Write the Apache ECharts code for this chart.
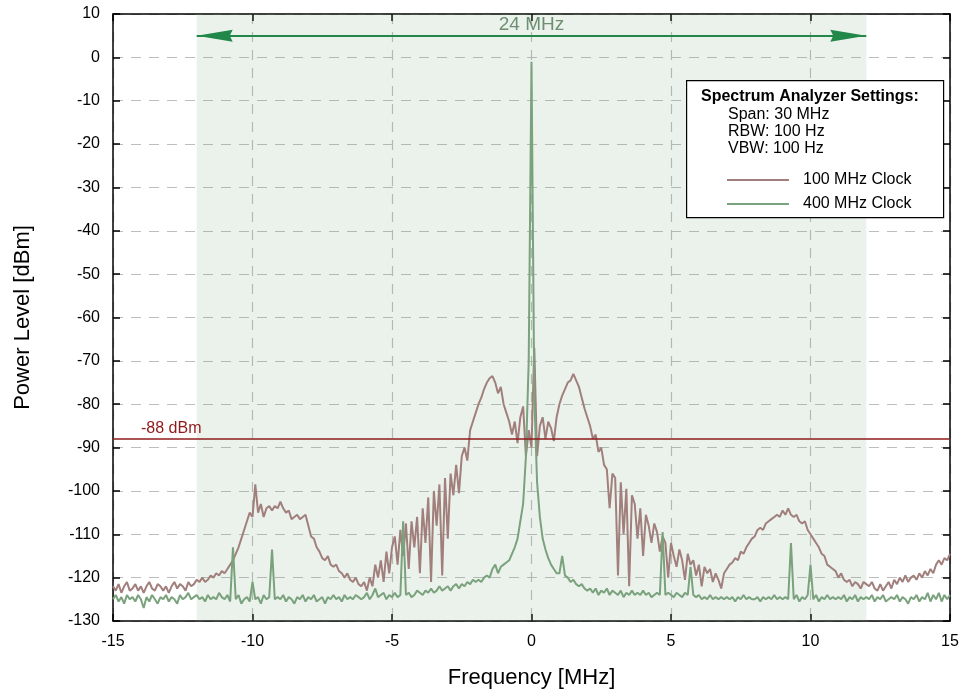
<!DOCTYPE html>
<html lang="en">
<head>
<meta charset="UTF-8">
<title>Spectrum</title>
<script src="https://cdn.jsdelivr.net/npm/echarts@6/dist/echarts.min.js"></script>
<style>
    html, body { margin: 0; padding: 0; background: #fff; }
    #chart { width: 965px; height: 696px; }
</style>
</head>
<body>
<div id="chart"></div>
<script>
// analyzer sweep: -15 .. +15 MHz, one reading every 0.1 MHz
var freqStart = -15;
var freqStep = 0.1;

// 100 MHz clock trace [dBm], one row per MHz
var clock100 = [
    -122, -123, -121.5, -123.5, -122, -121, -123, -122.5, -121.5, -123,
    -122, -123.5, -122, -121, -122.5, -123, -121.5, -122, -123, -122,
    -123.5, -122, -121, -122.5, -121.5, -122, -123, -121, -122, -121.5,
    -120.5, -121, -120, -121, -120.5, -119.5, -120, -119, -119.5, -118.5,
    -119, -118, -117, -116, -114.5, -113, -111, -109, -107, -105,
    -106, -98.5, -105, -103, -106, -104, -103.5, -104.5, -103.5, -104,
    -102.5, -104, -105, -104.5, -106.5, -106, -105.5, -106.5, -106, -105.5,
    -108, -110.5, -111, -113, -114, -115.5, -116, -115, -117, -117.5,
    -117, -118.5, -119, -120, -119, -120.5, -121, -120, -121.5, -122,
    -121, -123, -120, -122, -117, -120, -116, -121, -114, -119,
    -113, -110.5, -117, -109, -115, -107.5, -118, -107, -113, -106,
    -119, -104, -112, -101.5, -121, -100, -108, -98.5, -119.5, -97,
    -111, -96, -101, -94, -100.5, -92, -90, -93, -86, -84,
    -82, -80, -78.5, -76.5, -75, -74, -73.5, -75, -77.5, -76,
    -80, -82, -84, -87, -84, -89, -83, -80.5, -92, -86,
    -90, -67, -92, -85, -83, -88, -84, -85.5, -88.5, -83,
    -80, -78, -76.5, -75, -74.5, -73, -74.5, -76, -78.5, -81,
    -83, -85, -88, -87, -91, -90, -94, -95, -104, -96,
    -97, -119.5, -98, -110, -99.5, -122, -101, -103, -111, -104,
    -115, -105.5, -108, -112, -107.5, -109.5, -114, -110.5, -112, -120,
    -112, -115, -117.5, -113.5, -116, -120.5, -114.5, -117, -116, -119.5,
    -117, -122, -117.5, -119, -118, -121, -119, -120.5, -122.5, -119,
    -118, -117, -116.5, -115.5, -116, -114, -114.5, -113, -112, -111,
    -110.5, -109, -108.5, -109, -107.5, -107, -106.5, -106, -105.5, -106,
    -104.5, -105.5, -104, -105.5, -106, -105.5, -107, -107.5, -107, -109,
    -110, -111, -112, -113, -114.5, -115, -117, -117.5, -118, -118.5,
    -120, -119, -120.5, -121, -120.5, -122, -121, -121.5, -122.5, -121,
    -121.5, -122, -121, -122.5, -123, -121.5, -123, -122, -121, -122.5,
    -120.5, -121.5, -120, -121, -119.5, -121, -120, -119.5, -120.5, -119,
    -120, -118.5, -119.5, -118, -119, -117, -116, -117, -115.5, -116,
    -114.5
];

// 400 MHz clock trace [dBm]
var clock400 = [
    -125, -124, -125.5, -124.5, -126, -124, -125, -124.5, -125.5, -124,
    -125, -127, -124.5, -125.5, -124, -125, -126, -124.5, -125, -124,
    -125.5, -124.5, -125, -126, -124, -125, -124.5, -123.5, -125, -124.5,
    -124, -125, -124.5, -125.5, -124, -125, -124.5, -125, -123.5, -124.5,
    -125, -124, -125.5, -113, -125, -124, -126, -125, -124.5, -125.5,
    -121, -125, -124.5, -126, -124, -125, -124.5, -113.5, -125, -124.5,
    -125, -124, -125.5, -124.5, -125, -126, -124.5, -125, -124, -125.5,
    -124.5, -125, -124, -125.5, -125, -124.5, -126, -124.5, -125, -124,
    -125, -124.5, -125.5, -124, -125, -124.5, -125, -124, -124.5, -125,
    -124.5, -123.5, -125, -124, -122.5, -124.5, -124, -123.5, -125, -124,
    -124.5, -123.5, -124.5, -124, -107, -124, -123.5, -124.5, -124, -123,
    -123.5, -124, -123, -123.5, -122.5, -123.5, -123, -122, -123, -122.5,
    -122, -123, -122, -121.5, -122.5, -121.5, -122, -121, -121.5, -120.5,
    -121, -120.5, -121, -120, -119.5, -120, -118, -117, -119, -117.5,
    -117, -116.5, -116, -114.5, -113, -111, -107, -103, -92, -70,
    -1, -78, -98, -106, -111, -113.5, -115.5, -117, -118, -119,
    -119, -115, -119.5, -120, -121, -120.5, -121.5, -122, -121.5, -122.5,
    -123, -122.5, -123.5, -122.5, -124, -123, -123.5, -122.5, -124, -123,
    -123.5, -124, -123, -124.5, -123.5, -124, -123, -124, -123.5, -124,
    -123, -124, -123.5, -124.5, -124, -123.5, -124, -109.5, -124, -123.5,
    -124, -124.5, -123.5, -124, -124.5, -123.5, -124, -117.5, -124, -124.5,
    -124, -125, -124.5, -125, -124, -125, -124.5, -125, -124.5, -125,
    -124.5, -125, -124.5, -125.5, -124.5, -125, -124, -125, -124.5, -125,
    -125, -124.5, -125.5, -124.5, -125, -124.5, -125, -124, -125, -124.5,
    -125, -124.5, -125, -112, -125, -124, -125.5, -124.5, -125, -124,
    -117, -125, -124, -125.5, -124.5, -125, -124, -125, -124.5, -125,
    -124.5, -125, -124, -125.5, -124.5, -125, -124, -125.5, -124.5, -125,
    -124.5, -125, -124, -125.5, -124.5, -125, -124, -125.5, -125, -124.5,
    -125, -124, -125.5, -124.5, -125, -126, -124.5, -125, -124, -125.5,
    -124.5, -125, -123.5, -125.5, -124, -125, -123.5, -125.5, -124, -125,
    -124
];

var seriesNames = ['100 MHz Clock', '400 MHz Clock'];
var settingsLines = ['Span: 30 MHz', 'RBW: 100 Hz', 'VBW: 100 Hz'];
var spanEdges = [-12, 12];   // 24 MHz marker
var limitLevel = -88;        // dBm

var FONT = '"Liberation Sans", Arial, sans-serif';
var BROWN = '#a17f7c';
var GREEN = '#7aa27d';

function withFreq(vals) {
    return vals.map(function (v, i) {
        return [Math.round((freqStart + i * freqStep) * 10) / 10, v];
    });
}

// arrow head with its tip in the centre of the symbol box
var HEAD = 'path://M6,36 L12,72 L6,69 L0,72 Z M6,0 L6,0.01';
// plain line for the legend, padded to the full icon box
var LEGEND_LINE = 'path://M0,0 L0,0.01 M0,6 L62,6 L62,8 L0,8 Z M0,14 L0,14.01';

var axisLine = {onZero: false, lineStyle: {color: '#000', width: 1.5}};
var axisTick = {inside: true, length: 7, lineStyle: {color: '#000', width: 1.5}};
var gridLine = {show: true, lineStyle: {color: '#bdbdbd', width: 1.2, type: [10, 8]}};

var chart = echarts.init(document.getElementById('chart'));

var option = {
    animation: false,
    textStyle: {fontFamily: FONT},
    grid: {left: 113, right: 15, top: 14, bottom: 75},
    xAxis: [{
        type: 'value', min: -15, max: 15, interval: 5,
        axisLine: axisLine, axisTick: axisTick, splitLine: gridLine,
        axisLabel: {color: '#000', fontSize: 16, margin: 13},
        name: 'Frequency [MHz]', nameLocation: 'middle', nameGap: 46,
        nameTextStyle: {color: '#000', fontSize: 22}
    }, {
        type: 'value', min: -15, max: 15, interval: 5, position: 'top',
        axisLine: axisLine, axisTick: axisTick,
        axisLabel: {show: false}, splitLine: {show: false}
    }],
    yAxis: [{
        type: 'value', min: -130, max: 10, interval: 10,
        axisLine: axisLine, axisTick: axisTick, splitLine: gridLine,
        axisLabel: {color: '#000', fontSize: 16, margin: 13},
        name: 'Power Level [dBm]', nameLocation: 'middle', nameGap: 79,
        nameTextStyle: {color: '#000', fontSize: 22}
    }, {
        type: 'value', min: -130, max: 10, interval: 10, position: 'right',
        axisLine: axisLine, axisTick: axisTick,
        axisLabel: {show: false}, splitLine: {show: false}
    }],
    legend: {
        data: seriesNames,
        icon: LEGEND_LINE,
        left: 727, top: 172, orient: 'vertical', padding: 0,
        itemWidth: 62, itemHeight: 14, itemGap: 8,
        selectedMode: false, z: 10,
        textStyle: {color: '#000', fontSize: 16, padding: [0, 0, 0, 9]}
    },
    graphic: [
        {type: 'rect', left: 686, top: 80, z: 5,
         shape: {width: 257, height: 137},
         style: {fill: '#fff', stroke: '#000', lineWidth: 1.2}},
        {type: 'text', x: 701, y: 97, z: 6,
         style: {text: 'Spectrum Analyzer Settings:', font: 'bold 16px ' + FONT, fill: '#000', verticalAlign: 'middle'}},
        {type: 'text', x: 728, y: 115, z: 6,
         style: {text: settingsLines[0], font: '16px ' + FONT, fill: '#000', verticalAlign: 'middle'}},
        {type: 'text', x: 728, y: 132, z: 6,
         style: {text: settingsLines[1], font: '16px ' + FONT, fill: '#000', verticalAlign: 'middle'}},
        {type: 'text', x: 728, y: 149, z: 6,
         style: {text: settingsLines[2], font: '16px ' + FONT, fill: '#000', verticalAlign: 'middle'}}
    ],
    series: [{
        name: seriesNames[0], type: 'line', data: withFreq(clock100),
        symbol: 'none', showSymbol: false,
        lineStyle: {color: BROWN, width: 2}, itemStyle: {color: BROWN},
        markArea: {
            silent: true,
            itemStyle: {color: 'rgba(120,170,120,0.15)'},
            data: [[{xAxis: spanEdges[0]}, {xAxis: spanEdges[1]}]]
        },
        markLine: {
            silent: true, symbol: ['none', 'none'],
            lineStyle: {color: '#8e1b1b', width: 1.5, type: 'solid'},
            label: {show: true, position: 'insideStartTop', formatter: '-88 dBm',
                    color: '#8e1b1b', fontSize: 16, distance: [28, 2]},
            data: [{yAxis: limitLevel}]
        }
    }, {
        name: seriesNames[1], type: 'line', data: withFreq(clock400),
        symbol: 'none', showSymbol: false,
        lineStyle: {color: GREEN, width: 2}, itemStyle: {color: GREEN},
        markLine: {
            silent: true, symbol: [HEAD, HEAD], symbolSize: [12, 72],
            lineStyle: {color: '#22884a', width: 2, type: 'solid'},
            itemStyle: {color: '#22884a'},
            label: {show: true, position: 'middle', formatter: '24 MHz',
                    color: '#6e9072', fontSize: 19, distance: 1},
            data: [[{coord: [spanEdges[0], 5]}, {coord: [spanEdges[1], 5]}]]
        }
    }]
};

chart.setOption(option);
</script>
</body>
</html>
